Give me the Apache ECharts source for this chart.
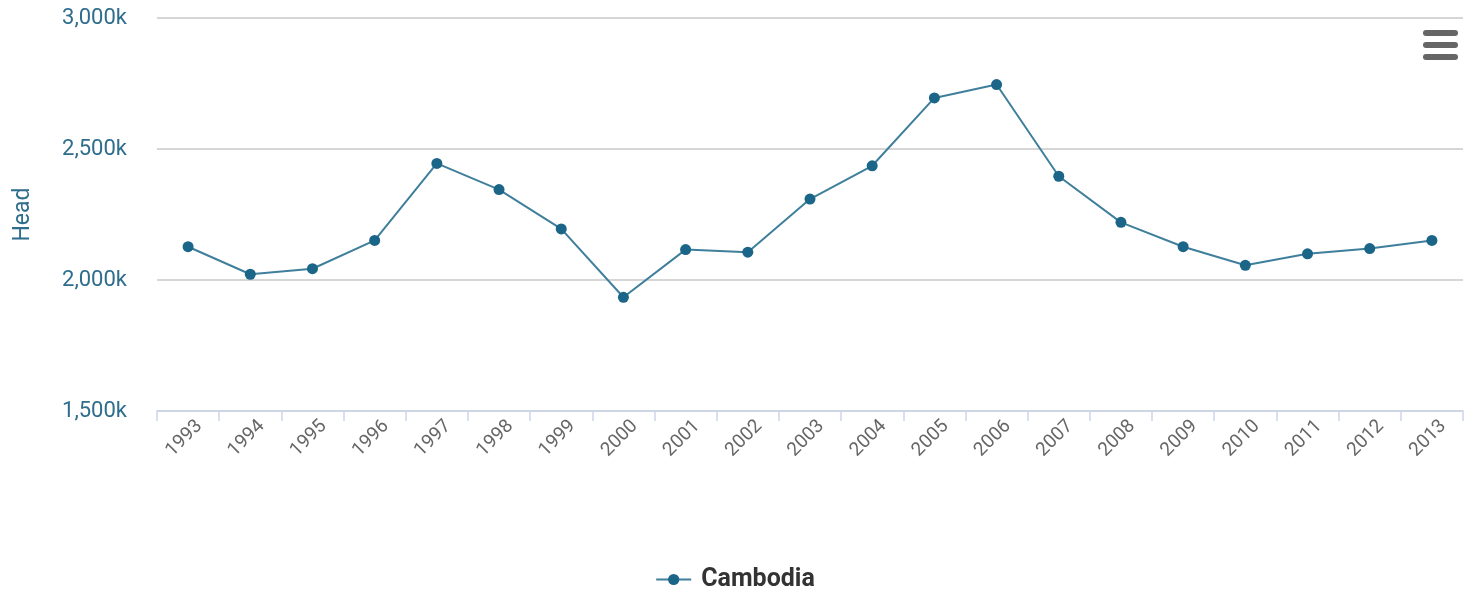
<!DOCTYPE html>
<html>
<head>
<meta charset="utf-8">
<script src="https://cdn.jsdelivr.net/npm/echarts@6/dist/echarts.min.js"></script>
<style>
  html, body { margin: 0; padding: 0; background: #fff; }
  #chart { width: 1470px; height: 594px; }
</style>
</head>
<body>
<div id="chart"></div>
<script>
// Cattle stock, Cambodia (thousand head)
const years = ['1993','1994','1995','1996','1997','1998','1999','2000','2001','2002','2003',
               '2004','2005','2006','2007','2008','2009','2010','2011','2012','2013'];
const cambodia = [2127, 2022, 2043, 2151, 2445, 2345, 2195, 1934, 2116, 2106, 2309,
                  2436, 2695, 2746, 2396, 2220, 2127, 2056, 2100, 2120, 2151];
const seriesName = 'Cambodia';
const axisTitle = 'Head';

const chart = echarts.init(document.getElementById('chart'));
chart.setOption({
  animation: false,
  textStyle: { fontFamily: 'Roboto' },
  grid: { left: 157, right: 7, top: 18, bottom: 183, containLabel: false, outerBoundsMode: 'none' },
  legend: {
    bottom: -3,
    left: 'center',
    itemWidth: 35,
    itemHeight: 14,
    textStyle: { fontSize: 25, fontWeight: 'bold', color: '#333', fontFamily: 'Roboto', padding: [0, 0, 0, 5] },
    data: [seriesName]
  },
  xAxis: {
    type: 'category',
    data: years,
    boundaryGap: true,
    axisLine: { lineStyle: { color: '#ccd6eb', width: 1.5 } },
    axisTick: { show: true, length: 10, lineStyle: { color: '#ccd6eb', width: 1.5 } },
    axisLabel: {
      rotate: 45, color: '#666', fontSize: 19, margin: 1, interval: 0,
      verticalAlign: 'top', lineHeight: 32
    }
  },
  yAxis: {
    type: 'value',
    min: 1500,
    max: 3000,
    interval: 500,
    name: axisTitle,
    nameLocation: 'middle',
    nameGap: 122,
    nameTextStyle: { color: '#2f6d8c', fontSize: 23 },
    axisLine: { show: false },
    axisTick: { show: false },
    axisLabel: {
      color: '#2f6d8c', fontSize: 22, margin: 30,
      formatter: v => v.toLocaleString('en-US') + 'k'
    },
    splitLine: { lineStyle: { color: '#c8c8c8', width: 1.5 } }
  },
  series: [{
    name: seriesName,
    type: 'line',
    data: cambodia,
    symbol: 'circle',
    symbolSize: 11,
    itemStyle: { color: '#1b6588' },
    lineStyle: { color: '#3f7f9c', width: 2 }
  }],
  graphic: [
    { type: 'rect', left: 1423, top: 30, shape: { width: 35, height: 6, r: 3 }, style: { fill: '#666' } },
    { type: 'rect', left: 1423, top: 42, shape: { width: 35, height: 6, r: 3 }, style: { fill: '#666' } },
    { type: 'rect', left: 1423, top: 54, shape: { width: 35, height: 6, r: 3 }, style: { fill: '#666' } }
  ]
});
</script>
</body>
</html>
